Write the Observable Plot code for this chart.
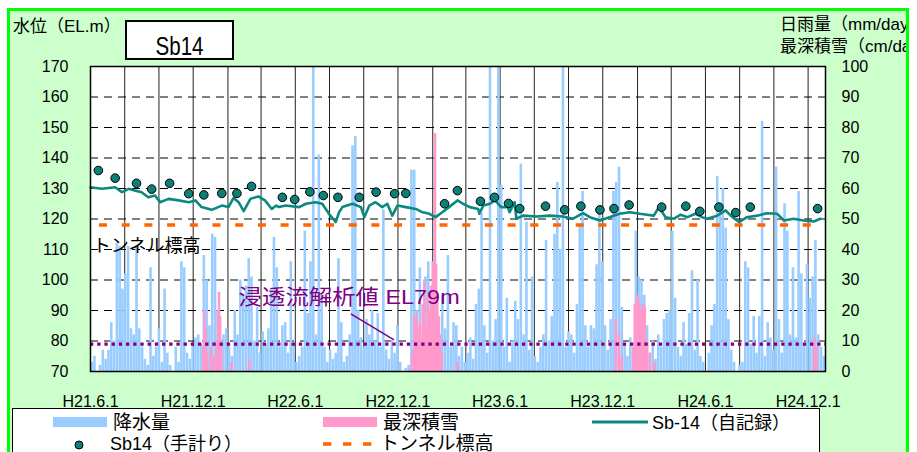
<!DOCTYPE html>
<html><head><meta charset="utf-8">
<script src="https://cdn.jsdelivr.net/npm/d3@7"></script>
<script src="https://cdn.jsdelivr.net/npm/@observablehq/plot@0.6"></script>
<style>
body{margin:0;width:917px;height:452px;overflow:hidden;background:#fff;position:relative;}
svg text{font-family:'Liberation Sans','Noto Sans CJK JP',sans-serif;}
#bg,#chart,#fg{position:absolute;left:0;top:0;}
</style></head><body>
<svg id="bg" width="917" height="452"><rect x="8.5" y="9.5" width="899" height="470" fill="#ccffcc" stroke="#00ff00" stroke-width="3"/></svg>
<div id="chart"></div>
<svg id="fg" width="917" height="452">
 <defs><clipPath id="clipR"><rect x="0" y="0" width="906" height="452"/></clipPath></defs>
 <text x="13" y="32" font-size="17">水位（EL.m）</text>
 <rect x="126" y="21" width="107" height="38" fill="#fff" stroke="#000" stroke-width="2"/>
 <text x="179.5" y="55" font-size="25" text-anchor="middle" textLength="48" lengthAdjust="spacingAndGlyphs">Sb14</text>
 <g clip-path="url(#clipR)">
  <text x="780" y="30" font-size="17">日雨量（mm/day）</text>
  <text x="780" y="52" font-size="17">最深積雪（cm/day）</text>
 </g>
 <rect x="12.5" y="408.5" width="807" height="60" fill="#fff" stroke="#000"/>
 <rect x="53" y="417" width="54" height="10" fill="#99ccff"/>
 <text x="113" y="429" font-size="19">降水量</text>
 <rect x="323" y="417" width="54" height="10" fill="#ff99cc"/>
 <text x="383" y="429" font-size="19">最深積雪</text>
 <line x1="592" x2="648" y1="422" y2="422" stroke="#0a8a7e" stroke-width="3"/>
 <text x="652" y="429" font-size="18">Sb-14（自記録）</text>
 <circle cx="79" cy="445" r="4" fill="#0d7f78" stroke="#000" stroke-width="1"/>
 <text x="110" y="450" font-size="18">Sb14（手計り）</text>
 <line x1="323" x2="377" y1="444" y2="444" stroke="#ff6600" stroke-width="3.5" stroke-dasharray="8.3,11.7"/>
 <text x="380" y="450" font-size="19">トンネル標高</text>
</svg>
<script>
// ---- data ----
const startDate = "2009-06-01";
const endDate = "2013-01-01";
const levelTicks = [70, 80, 90, 100, 110, 120, 130, 140, 150, 160, 170];
const xTickDates = ["2009-06-01","2009-12-01","2010-06-01","2010-12-01","2011-06-01","2011-12-01","2012-06-01","2012-12-01"];
const xTickLabels = ["H21.6.1","H21.12.1","H22.6.1","H22.12.1","H23.6.1","H23.12.1","H24.6.1","H24.12.1"];

// daily rainfall (mm/day), read in 5-day steps from 2009-06-01
const rainStart = "2009-06-01";
const rainStepDays = 5;
const rainValues = [
 3,5,0,2,7,4,7,16,10,42,
 41,27,32,41,14,12,41,14,8,4,
 2,34,5,8,14,3,27,6,2,0,
 8,3,36,34,6,4,8,11,12,9,
 38,30,15,45,44,20,10,12,14,8,
 5,20,12,30,25,28,37,31,10,21,
 6,13,9,14,27,44,34,8,15,16,
 6,36,9,3,5,8,46,19,36,100,
 12,71,25,8,3,7,4,6,37,16,
 3,5,12,74,77,20,11,8,17,12,
 20,10,19,8,53,7,4,10,6,15,
 3,0,1,2,66,66,20,34,12,31,
 36,25,31,18,10,25,14,38,8,16,
 15,5,8,3,6,11,4,22,27,52,
 15,6,100,10,17,100,61,8,24,3,
 10,23,17,68,12,49,7,31,5,3,
 8,12,43,10,18,45,62,40,100,8,
 13,12,6,22,48,59,15,8,15,14,
 35,52,36,15,7,17,59,62,67,21,
 9,5,11,8,46,31,30,25,15,6,
 10,4,12,8,17,19,20,46,24,8,
 5,16,9,19,33,7,30,5,3,0,
 6,15,22,64,55,60,47,17,7,3,
 0,2,3,36,34,9,18,6,18,82,
 5,16,11,7,67,17,6,55,46,12,
 34,11,59,32,9,35,24,31,43,12,
 8,5
];

// deepest snow (cm)
const snowDates = ["2009-12-19","2009-12-21","2009-12-23","2009-12-26","2010-01-02","2010-01-06","2010-01-12","2010-01-14","2010-01-16","2010-01-18","2010-01-20","2010-02-07","2010-03-11",
 "2010-12-26","2010-12-28","2010-12-30","2011-01-01","2011-01-03","2011-01-05","2011-01-07","2011-01-09","2011-01-11","2011-01-14","2011-01-17","2011-01-20","2011-01-23","2011-01-26","2011-01-29","2011-02-01","2011-02-03","2011-02-05","2011-02-07","2011-02-09","2011-02-12","2011-02-14","2011-02-17","2011-03-17",
 "2011-12-24","2011-12-30","2012-01-04","2012-01-24","2012-01-27","2012-01-31","2012-02-04","2012-02-07","2012-02-11","2012-02-14","2012-02-18","2012-02-23","2012-03-02",
 "2012-12-12","2012-12-16"];
const snowDepths = [8,20,14,6,8,5,10,20,26,18,9,3,4,
 5,7,18,12,19,14,9,16,10,22,30,15,25,20,28,36,30,78,35,23,18,12,6,3,
 17,12,5,8,22,25,23,20,22,21,10,6,3,
 11,8];

// Sb-14 automatic record (EL.m)
const lineDates = ["2009-06-01","2009-06-21","2009-07-15","2009-07-27","2009-08-08","2009-08-20","2009-08-31","2009-09-12","2009-09-24","2009-10-03","2009-10-18","2009-11-05","2009-11-23","2009-12-05","2009-12-16","2010-01-03","2010-01-21","2010-02-02","2010-02-11","2010-02-20","2010-03-01","2010-03-13","2010-03-27","2010-04-08","2010-04-20","2010-04-28","2010-05-03","2010-05-15","2010-06-08","2010-06-20","2010-07-07","2010-07-19","2010-07-31","2010-08-12","2010-08-18","2010-08-24","2010-09-11","2010-09-26","2010-10-02","2010-10-11","2010-10-22","2010-11-03","2010-11-12","2010-11-21","2010-11-30","2010-12-15","2011-01-02","2011-01-14","2011-01-26","2011-02-06","2011-02-18","2011-03-02","2011-03-17","2011-03-27","2011-04-08","2011-04-23","2011-04-25","2011-05-02","2011-05-14","2011-05-23","2011-06-03","2011-06-15","2011-06-18","2011-06-27","2011-06-30","2011-07-12","2011-08-05","2011-08-29","2011-09-21","2011-10-09","2011-10-27","2011-11-08","2011-11-26","2011-12-13","2011-12-31","2012-01-18","2012-02-05","2012-02-18","2012-03-01","2012-03-10","2012-03-22","2012-04-06","2012-04-18","2012-04-30","2012-05-14","2012-05-26","2012-06-04","2012-06-22","2012-07-07","2012-07-19","2012-07-31","2012-08-14","2012-09-01","2012-09-19","2012-10-07","2012-10-19","2012-11-05","2012-11-23","2012-12-11","2012-12-23"];
const lineLevels = [130.4,129.9,130.4,128.8,129.9,129.3,128.8,127.1,127.7,125.5,126.6,126.1,125.5,126.1,123.9,123.0,124.4,123.9,126.9,125.5,122.6,126.6,127.4,126.1,123.3,124.4,123.9,124.4,123.9,125.0,125.5,125.0,121.7,119.0,122.2,123.9,125.0,123.9,120.6,124.4,125.5,123.9,125.0,121.1,124.4,123.9,123.3,122.2,121.7,120.6,122.2,123.9,126.1,125.0,123.9,123.3,121.7,124.4,125.0,126.1,123.9,123.9,122.2,125.5,120.1,121.1,120.8,121.1,120.8,120.1,121.9,120.6,119.5,120.6,121.7,122.2,121.7,121.4,121.1,123.9,120.6,120.1,121.4,120.6,121.7,120.6,120.1,121.1,122.8,120.6,119.0,120.6,121.1,121.9,121.7,119.5,120.1,119.5,119.2,120.1];

// Sb14 manual measurements (EL.m)
const manualDates = ["2009-06-15","2009-07-15","2009-08-22","2009-09-18","2009-10-20","2009-11-23","2009-12-20","2010-01-21","2010-02-17","2010-03-15","2010-05-09","2010-05-31","2010-06-27","2010-07-21","2010-08-16","2010-09-23","2010-10-23","2010-11-25","2010-12-15","2011-02-22","2011-03-17","2011-04-27","2011-05-22","2011-06-16","2011-07-06","2011-08-21","2011-09-24","2011-10-23","2011-11-26","2011-12-21","2012-01-17","2012-03-15","2012-04-27","2012-05-22","2012-06-25","2012-07-25","2012-08-20","2012-12-18"];
const manualLevels = [135.9,133.4,131.7,129.8,131.7,128.3,127.9,128.4,128.4,130.7,127.1,126.4,128.9,127.7,127.1,127.1,128.8,128.3,128.4,125.0,129.3,125.8,127.1,125.1,123.4,124.2,123.0,124.2,123.0,123.4,124.6,123.9,124.2,122.5,123.9,122.1,123.9,123.4];

const tunnelLevel = 118;
const seepageLevel = 79;
const noteTexts = ["浸透流解析値 EL79m", "トンネル標高"];
const noteDates = ["2010-02-20", "2009-06-05"];
const noteLevels = [94.3, 111.0];
const leaderFrom = ["2010-09-08", 88.9];
const leaderTo = ["2010-11-24", 80.4];

// ---- build ----
const R = v => 70 + v; // right axis 0–100 sits on left axis 70–170
const rain = rainValues.map((v, i) => ({date: d3.utcDay.offset(new Date(rainStart), i * rainStepDays + 2), v}));
const snow = snowDates.map((d, i) => ({date: new Date(d), v: snowDepths[i]}));
const level = lineDates.map((d, i) => ({date: new Date(d), v: lineLevels[i]}));
const manual = manualDates.map((d, i) => ({date: new Date(d), v: manualLevels[i]}));
const notes = noteTexts.map((t, i) => ({text: t, date: new Date(noteDates[i]), v: noteLevels[i]}));
const gridDates = d3.utcMonth.range(new Date("2009-08-01"), new Date(endDate), 2);
const labelMap = new Map(xTickDates.map((d, i) => [+new Date(d), xTickLabels[i]]));

const chart = Plot.plot({
  width: 917, height: 410,
  marginLeft: 90, marginRight: 92, marginTop: 66, marginBottom: 39,
  style: {background: "transparent", fontFamily: "'Liberation Sans','Noto Sans CJK JP',sans-serif", fontSize: "16px", color: "#000"},
  x: {type: "utc", domain: [new Date(startDate), new Date(endDate)]},
  y: {domain: [70, 170]},
  marks: [
    Plot.frame({fill: "#fff", stroke: null}),
    Plot.ruleX(gridDates, {stroke: "#222", strokeWidth: 1}),
    Plot.ruleY(levelTicks.slice(1, -1), {stroke: "#000", strokeWidth: 1, strokeDasharray: "8,6"}),
    Plot.ruleX(rain, {x: "date", y1: () => 70, y2: d => R(d.v), stroke: "#99ccff", strokeWidth: 2.6}),
    Plot.ruleX(snow, {x: "date", y1: () => 70, y2: d => R(d.v), stroke: "#ff99cc", strokeWidth: 2.6}),
    Plot.ruleY([seepageLevel], {stroke: "#800080", strokeWidth: 3.3, strokeDasharray: "3.3,3.9"}),
    Plot.ruleY([tunnelLevel], {stroke: "#ff6600", strokeWidth: 3.5, strokeDasharray: "8,14.7", strokeDashoffset: 13.7}),
    Plot.line(level, {x: "date", y: "v", stroke: "#0a8a7e", strokeWidth: 2.6}),
    Plot.dot(manual, {x: "date", y: "v", r: 4.3, fill: "#0d7f78", stroke: "#000", strokeWidth: 1}),
    Plot.link([0], {x1: () => new Date(leaderFrom[0]), y1: () => leaderFrom[1], x2: () => new Date(leaderTo[0]), y2: () => leaderTo[1], stroke: "#800080", strokeWidth: 1.5}),
    Plot.text(notes.slice(0, 1), {x: "date", y: "v", text: "text", fill: "#800080", fontSize: 21, textAnchor: "start"}),
    Plot.text(notes.slice(1), {x: "date", y: "v", text: "text", fill: "#000", fontSize: 18, textAnchor: "start"}),
    Plot.frame({stroke: "#000", strokeWidth: 1.5}),
    Plot.axisY({ticks: levelTicks, anchor: "left", tickSize: 0, tickPadding: 22, label: null}),
    Plot.axisY({ticks: levelTicks, anchor: "right", tickSize: 0, tickPadding: 16, tickFormat: d => String(d - 70), label: null}),
    Plot.axisX({ticks: xTickDates.map(d => new Date(d)), tickFormat: d => labelMap.get(+d), tickSize: 0, tickPadding: 24, label: null})
  ]
});
chart.querySelectorAll("text").forEach(t => {
  if (t.textContent.startsWith("浸透")) { t.setAttribute("textLength", 221); t.setAttribute("lengthAdjust", "spacingAndGlyphs"); }
});
document.getElementById("chart").appendChild(chart);
</script>
</body></html>
